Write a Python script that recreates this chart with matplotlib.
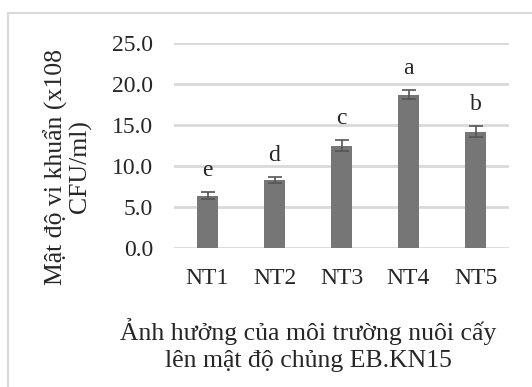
import matplotlib
matplotlib.use("Agg")
import matplotlib.pyplot as plt
from matplotlib.patches import Rectangle

categories = ["NT1", "NT2", "NT3", "NT4", "NT5"]
values = [6.4, 8.3, 12.5, 18.7, 14.2]
errors = [0.4, 0.4, 0.65, 0.5, 0.65]
letters = ["e", "d", "c", "a", "b"]
yticks = [0, 5, 10, 15, 20, 25]

plt.rcParams["font.family"] = ["Liberation Serif", "DejaVu Serif"]
FS = 17
LFS = 18.5
TC = "#262626"

fig = plt.figure(figsize=(5.32, 3.87), dpi=100)
fig.patches.append(Rectangle((8/532, -0.1), 1.2, 1 - 13/387 + 0.1,
                             transform=fig.transFigure, fill=False,
                             edgecolor="#d9d9d9", linewidth=1.5))

ax = fig.add_axes([174/532, 1 - 248.3/387, 335/532, (248.3 - 42.7)/387])
x = list(range(len(categories)))
ax.bar(x, values, width=0.31, color="#767676", zorder=3)
ax.errorbar(x, values, yerr=errors, fmt="none", ecolor="#555555",
            elinewidth=1.2, capsize=5, capthick=1.2, zorder=4)
for xi, v, e, l in zip(x, values, errors, letters):
    ax.annotate(l, (xi, v + e), xytext=(0, 8), textcoords="offset points",
                ha="center", va="bottom", fontsize=FS, color=TC)

ax.set_xlim(-0.5, len(categories) - 0.5)
ax.set_ylim(0, 25)
ax.set_yticks(yticks)
ax.set_yticklabels([f"{t:.1f}" for t in yticks], fontsize=FS, color=TC)
ax.set_xticks(x)
ax.set_xticklabels(categories, fontsize=FS, color=TC)
ax.tick_params(axis="y", length=0, pad=15)
ax.tick_params(axis="x", length=0, pad=14)
ax.yaxis.grid(True, color="#d9d9d9", linewidth=2)
ax.set_axisbelow(True)
for s in ax.spines.values():
    s.set_visible(False)

fig.text(68/532, 1 - 167/387, "Mật độ vi khuẩn (x108\nCFU/ml)", rotation=90,
         ha="center", va="center", fontsize=LFS, color=TC,
         linespacing=1.05, multialignment="center")
fig.text(308/532, 1 - 345/387, "Ảnh hưởng của môi trường nuôi cấy\nlên mật độ chủng EB.KN15",
         ha="center", va="center", fontsize=LFS, color=TC,
         linespacing=1.3, multialignment="center")

fig.savefig("out.png", dpi=100)
